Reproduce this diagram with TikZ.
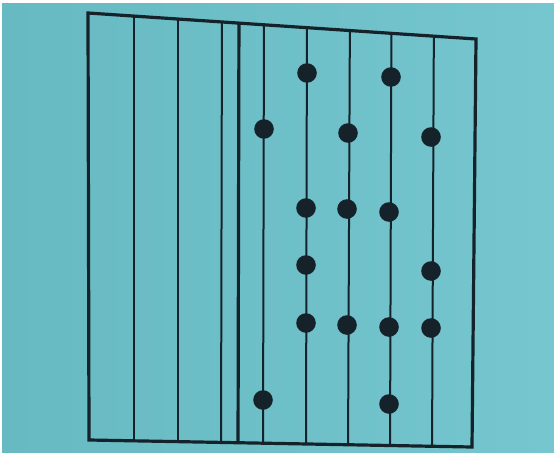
\documentclass[tikz,border=0pt]{standalone}
\begin{document}
\begin{tikzpicture}[x=1pt,y=-1pt,
  inkc/.style={draw=ink, line cap=butt},
  thinline/.style={inkc, line width=2pt},
  thickline/.style={inkc, line width=3.2pt},
  frameline/.style={inkc, line width=3.2pt, line join=miter},
  bead/.style={fill=ink, draw=none}]
\definecolor{ink}{HTML}{16222A}
\definecolor{tealL}{HTML}{67B9C2}
\definecolor{tealR}{HTML}{75C6CE}
\useasboundingbox (0,0) rectangle (554,455);
\fill[white] (0,0) rectangle (554,455);
\shade[left color=tealL, right color=tealR] (2,3) rectangle (554,452);
% frame corners
\coordinate (TL) at (88,13);
\coordinate (TR) at (476,39);
\coordinate (BR) at (472,447);
\coordinate (BL) at (89,440);
\begin{scope}
\clip (TL) -- (TR) -- (BR) -- (BL) -- cycle;
\foreach \xt/\xb in {134/134, 178/178, 222/221, 264/263, 307/306, 350/348, 391.5/390, 434/432}
  \draw[thinline] (\xt,0) -- (\xb,455);
\draw[thickline] (239,0) -- (238,455);
\end{scope}
\draw[frameline] (TL) -- (TR) -- (BR) -- (BL) -- cycle;
% beads
\foreach \px/\py [count=\i] in {307/73, 391/77, 264/129, 348/133, 431/137,
  306/208, 347/209, 389/212, 306/265, 431/271,
  306/323, 347/325, 389/327, 431/328, 263/400, 389/404}
  \fill[bead] (\px,\py) coordinate (b\i) circle (9.8);
\end{tikzpicture}
\end{document}
